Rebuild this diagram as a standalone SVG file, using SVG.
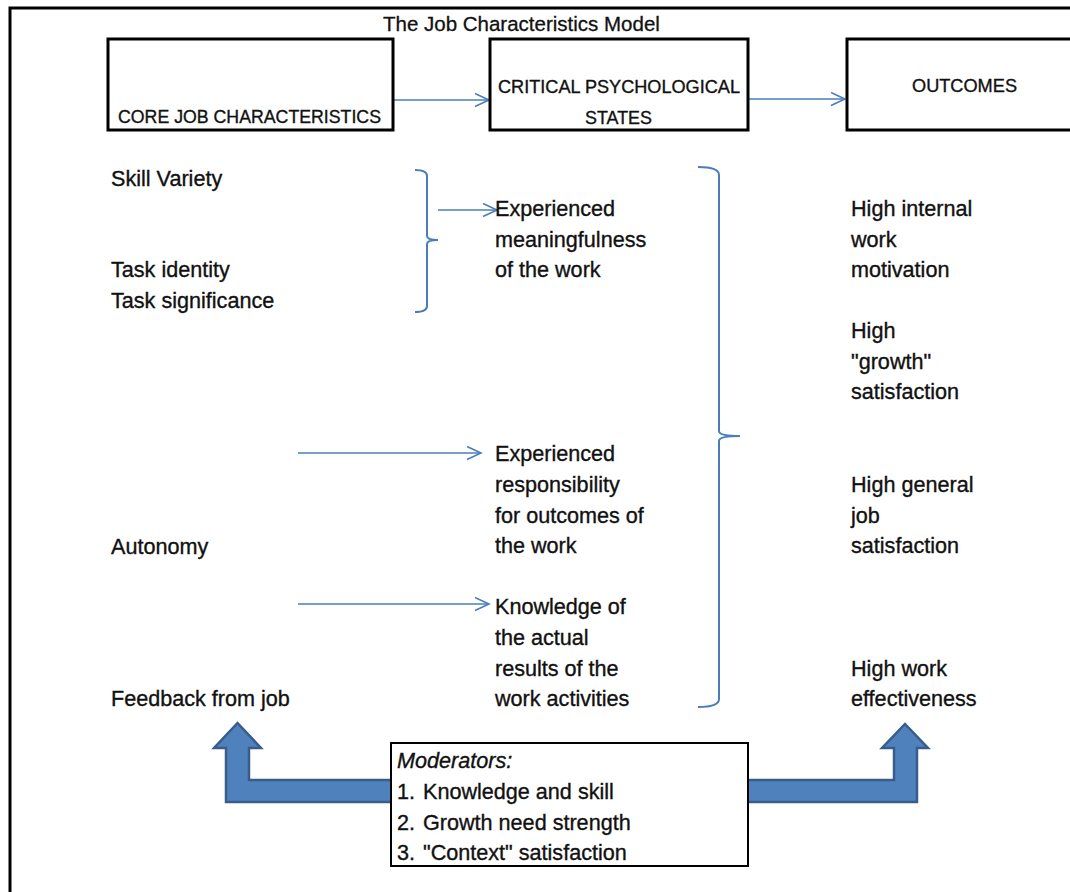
<svg xmlns="http://www.w3.org/2000/svg" width="1070" height="892" viewBox="0 0 1070 892">
  <style>
    .t { font-family: "Liberation Sans", Arial, sans-serif; font-size: 21.6px; fill: #111; stroke: #111; stroke-width: 0.35; }
    .hd { font-family: "Liberation Sans", Arial, sans-serif; font-size: 18.5px; fill: #111; stroke: #111; stroke-width: 0.35; }
    .ttl { font-family: "Liberation Sans", Arial, sans-serif; font-size: 20.5px; fill: #111; stroke: #111; stroke-width: 0.3; }
    .box { fill: #fff; stroke: #000; stroke-width: 3; }
    .mbox { fill: #fff; stroke: #000; stroke-width: 2; }
    .link { fill: none; stroke: #4a7ebb; stroke-width: 1.6; }
    .brace { fill: none; stroke: #4a7ebb; stroke-width: 2; }
    .block { fill: #4f81bd; stroke: #385d8a; stroke-width: 2.5; stroke-linejoin: miter; }
  </style>
  <defs>
    <marker id="open" markerUnits="userSpaceOnUse" markerWidth="18" markerHeight="16" refX="15" refY="7" orient="auto" viewBox="0 0 18 16">
      <path d="M1,0.5 L15,7 L1,13.5" fill="none" stroke="#4a7ebb" stroke-width="1.6"/>
    </marker>
  </defs>

  <rect width="1070" height="892" fill="#fff"/>
  <!-- page frame -->
  <rect x="10" y="8" width="1090" height="920" fill="none" stroke="#000" stroke-width="3"/>

  <text class="ttl" x="383" y="31">The Job Characteristics Model</text>

  <!-- block arrows from the moderators box -->
  <g id="moderator-arrows">
    <polygon class="block" points="392,780 249,780 249,748 261,748 237.5,723 214,748 226,748 226,802 392,802"/>
    <polygon class="block" points="747,780 894,780 894,748 882,748 905,724 928,748 917,748 917,802 747,802"/>
  </g>

  <g id="connectors">
    <line class="link" x1="393" y1="100" x2="489" y2="100" marker-end="url(#open)"/>
    <line class="link" x1="748" y1="99" x2="845" y2="99" marker-end="url(#open)"/>
    <line class="link" x1="438" y1="210" x2="497" y2="210" marker-end="url(#open)"/>
    <line class="link" x1="298" y1="453" x2="481" y2="453" marker-end="url(#open)"/>
    <line class="link" x1="298" y1="604" x2="489" y2="604" marker-end="url(#open)"/>
    <!-- braces -->
    <path class="brace" d="M415,170 Q427,170 427,176 L427,236 Q427,240 438,240 Q427,240 427,244 L427,306 Q427,312 415,312"/>
    <path class="brace" d="M698,167 Q719,167 719,175 L719,431 Q719,436 740,436 Q719,436 719,441 L719,699 Q719,707 698,707"/>
  </g>

  <g id="core">
    <rect class="box" x="108" y="39" width="285" height="91"/>
    <text class="hd" x="118" y="123" textLength="263" lengthAdjust="spacingAndGlyphs">CORE JOB CHARACTERISTICS</text>
  </g>
  <g id="states">
    <rect class="box" x="490" y="39" width="258" height="91"/>
    <text class="hd" x="498" y="93" textLength="242" lengthAdjust="spacingAndGlyphs">CRITICAL PSYCHOLOGICAL</text>
    <text class="hd" x="585" y="124" textLength="67" lengthAdjust="spacingAndGlyphs">STATES</text>
  </g>
  <g id="outcomes">
    <rect class="box" x="847" y="39" width="260" height="91"/>
    <text class="hd" x="912" y="92" textLength="105" lengthAdjust="spacingAndGlyphs">OUTCOMES</text>
  </g>

  <g id="characteristics">
    <text class="t" x="111" y="186">Skill Variety</text>
    <text class="t" x="111" y="277">Task identity</text>
    <text class="t" x="111" y="308">Task significance</text>
    <text class="t" x="111" y="554">Autonomy</text>
    <text class="t" x="111" y="706">Feedback from job</text>
  </g>

  <g id="meaningfulness">
    <text class="t" x="495" y="216">Experienced</text>
    <text class="t" x="495" y="247">meaningfulness</text>
    <text class="t" x="495" y="277">of the work</text>
  </g>
  <g id="responsibility">
    <text class="t" x="495" y="461">Experienced</text>
    <text class="t" x="495" y="492">responsibility</text>
    <text class="t" x="495" y="523">for outcomes of</text>
    <text class="t" x="495" y="553">the work</text>
  </g>
  <g id="knowledge">
    <text class="t" x="495" y="614">Knowledge of</text>
    <text class="t" x="495" y="645">the actual</text>
    <text class="t" x="495" y="676">results of the</text>
    <text class="t" x="495" y="706">work activities</text>
  </g>

  <g id="motivation">
    <text class="t" x="851" y="216">High internal</text>
    <text class="t" x="851" y="247">work</text>
    <text class="t" x="851" y="277">motivation</text>
  </g>
  <g id="growth">
    <text class="t" x="851" y="338">High</text>
    <text class="t" x="851" y="369">"growth"</text>
    <text class="t" x="851" y="399">satisfaction</text>
  </g>
  <g id="general">
    <text class="t" x="851" y="492">High general</text>
    <text class="t" x="851" y="523">job</text>
    <text class="t" x="851" y="553">satisfaction</text>
  </g>
  <g id="effectiveness">
    <text class="t" x="851" y="676">High work</text>
    <text class="t" x="851" y="706">effectiveness</text>
  </g>

  <g id="moderators">
    <rect class="mbox" x="391" y="743" width="357" height="123"/>
    <text class="t" x="397" y="768" font-style="italic">Moderators:</text>
    <text class="t" x="397" y="799">1.</text>
    <text class="t" x="423" y="799">Knowledge and skill</text>
    <text class="t" x="397" y="830">2.</text>
    <text class="t" x="423" y="830">Growth need strength</text>
    <text class="t" x="397" y="860">3.</text>
    <text class="t" x="423" y="860">"Context" satisfaction</text>
  </g>
</svg>
